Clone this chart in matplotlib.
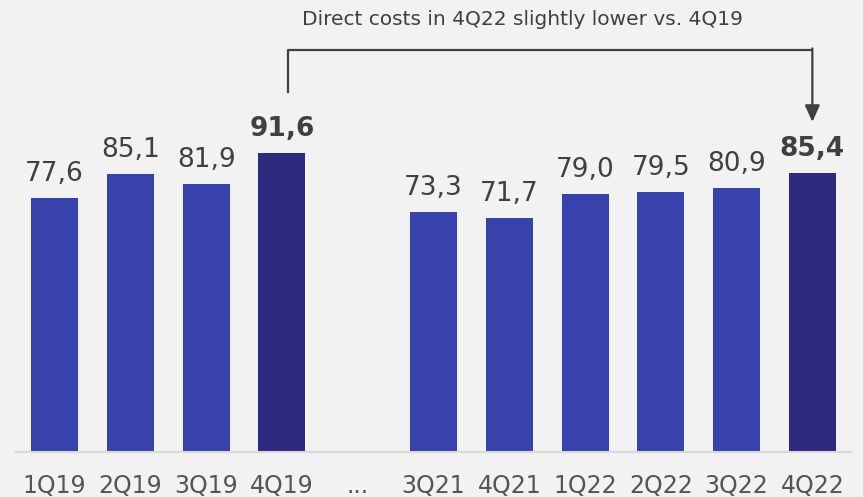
import matplotlib.pyplot as plt
import numpy as np

# quarterly direct costs, with a gap between 2019 and 2021
quarters = ['1Q19', '2Q19', '3Q19', '4Q19', '...', '3Q21', '4Q21', '1Q22', '2Q22', '3Q22', '4Q22']
costs = [77.6, 85.1, 81.9, 91.6, None, 73.3, 71.7, 79.0, 79.5, 80.9, 85.4]
highlight = ['4Q19', '4Q22']
note = 'Direct costs in 4Q22 slightly lower vs. 4Q19'

bg = '#f2f2f2'
blue = '#3742ad'
dark = '#2e2a7f'
txt = '#404040'

fig = plt.figure(figsize=(8.63, 4.97), dpi=100, facecolor=bg)
ax = fig.add_axes([16 / 863, 45 / 497, 835 / 863, 452 / 497])
ax.set_facecolor(bg)

x = np.arange(len(quarters))
for i, (q, v) in enumerate(zip(quarters, costs)):
    if v is None:
        continue
    hl = q in highlight
    ax.bar(i, v, width=0.62, color=dark if hl else blue, zorder=2)
    lbl = f'{v:.1f}'.replace('.', ',')
    ax.text(i, v + 5.2, lbl, ha='center', va='baseline', color=txt,
            fontsize=19, fontweight='bold' if hl else 'normal')

ax.set_xlim(-0.51, 10.51)
ax.set_ylim(0, 138.3)
ax.set_xticks(x)
ax.set_xticklabels(quarters, fontsize=17, color='#555555')
ax.tick_params(axis='x', length=0, pad=16)
ax.set_yticks([])
for s in ['top', 'right', 'left']:
    ax.spines[s].set_visible(False)
ax.spines['bottom'].set_color('#d9d9d9')
ax.spines['bottom'].set_linewidth(1.5)

# bracket from 4Q19 to 4Q22
i0, i1 = quarters.index('4Q19'), quarters.index('4Q22')
ax.plot([i0 + 0.08, i0 + 0.08, i1], [110.2, 123.0, 123.0], color=txt, lw=1.6, clip_on=False)
ax.annotate('', xy=(i1, 101.0), xytext=(i1, 123.5),
            arrowprops=dict(arrowstyle='-|>,head_length=1.0,head_width=0.45',
                            color=txt, lw=1.6, shrinkA=0, shrinkB=0))
ax.text(6.17, 132.2, note, ha='center', va='center', fontsize=14.5, color=txt)

fig.savefig('out.png', dpi=100, facecolor=bg)
